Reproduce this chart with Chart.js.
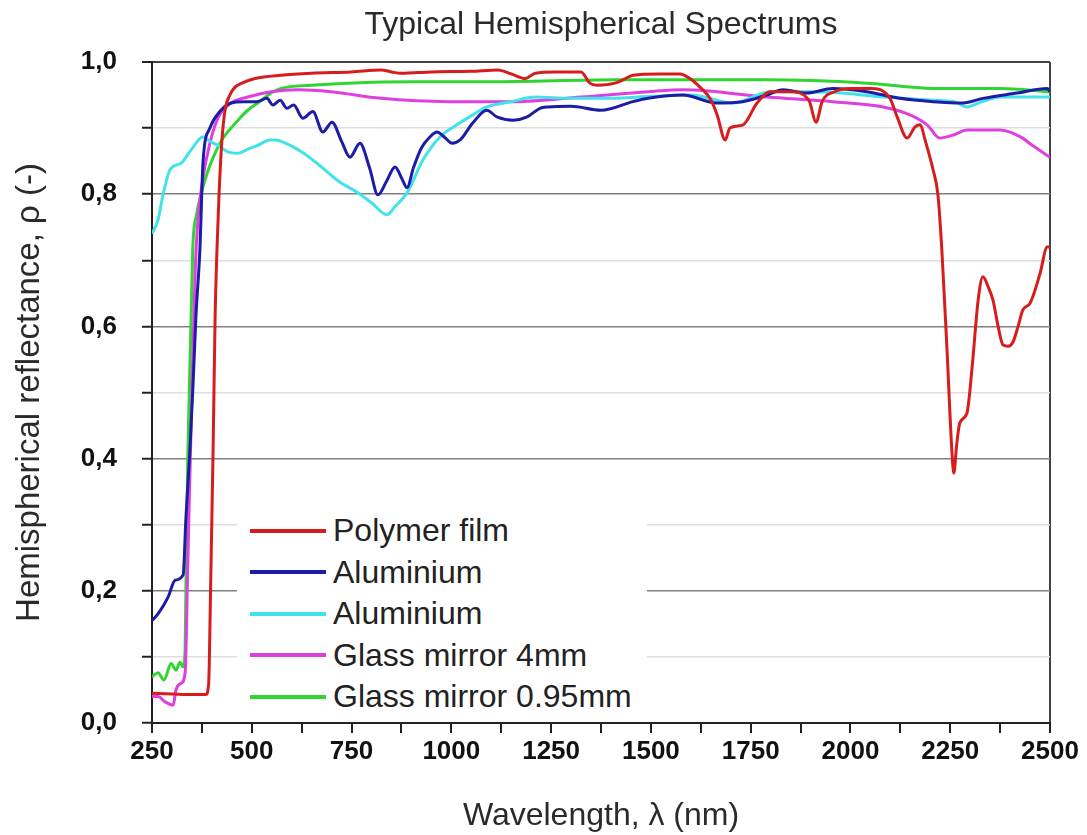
<!DOCTYPE html>
<html>
<head>
<meta charset="utf-8">
<script src="https://cdn.jsdelivr.net/npm/chart.js@4.4.1/dist/chart.umd.min.js"></script>
<style>
  body { margin: 0; background: #fff; }
  #wrap { position: relative; width: 1087px; height: 835px; }
  #legend {
    position: absolute; left: 237px; top: 510px; width: 410px; height: 207px;
    background: #fff; font-family: "Liberation Sans", Arial, sans-serif;
    font-size: 32px; color: #222;
  }
  .item { display: flex; align-items: center; height: 41.5px; }
  .swatch { width: 76px; height: 4px; margin-left: 13px; margin-right: 7px; }
</style>
</head>
<body>
<div id="wrap">
  <canvas id="chart"></canvas>
  <div id="legend"></div>
</div>
<script>
// Wavelength (nm) and reflectance
const polymerX = [250, 300, 350, 385, 392, 397, 403, 408, 413, 418, 425, 433, 445, 458, 475, 508, 573, 650, 750, 824, 850, 874, 950, 1050, 1117, 1150, 1185, 1210, 1260, 1325, 1347, 1365, 1410, 1430, 1455, 1520, 1573, 1598, 1623, 1648, 1666, 1686, 1698, 1731, 1766, 1800, 1850, 1896, 1914, 1929, 1960, 2000, 2050, 2099, 2117, 2142, 2162, 2175, 2187, 2207, 2219, 2229, 2242, 2254, 2259, 2266, 2274, 2292, 2305, 2320, 2332, 2345, 2357, 2370, 2382, 2395, 2407, 2420, 2432, 2450, 2475, 2493, 2500];
const polymerY = [0.045, 0.044, 0.043, 0.043, 0.06, 0.21, 0.41, 0.61, 0.72, 0.80, 0.88, 0.927, 0.95, 0.962, 0.968, 0.975, 0.98, 0.983, 0.985, 0.988, 0.985, 0.983, 0.985, 0.986, 0.988, 0.982, 0.975, 0.983, 0.985, 0.985, 0.968, 0.965, 0.968, 0.973, 0.98, 0.982, 0.982, 0.975, 0.962, 0.945, 0.92, 0.882, 0.90, 0.905, 0.938, 0.955, 0.955, 0.942, 0.909, 0.94, 0.955, 0.96, 0.96, 0.945, 0.917, 0.885, 0.902, 0.905, 0.882, 0.837, 0.80, 0.716, 0.564, 0.413, 0.378, 0.42, 0.454, 0.469, 0.539, 0.64, 0.675, 0.66, 0.64, 0.60, 0.572, 0.57, 0.576, 0.60, 0.625, 0.635, 0.68, 0.72, 0.72];

const alu1X = [250, 265, 290, 308, 328, 335, 345, 353, 360, 370, 378, 395, 420, 448, 480, 513, 538, 553, 571, 588, 605, 628, 653, 678, 701, 725, 746, 771, 795, 816, 838, 859, 875, 889, 905, 925, 947, 964, 985, 1002, 1022, 1054, 1089, 1114, 1155, 1190, 1222, 1242, 1300, 1375, 1455, 1493, 1580, 1665, 1730, 1790, 1831, 1891, 1956, 2041, 2124, 2207, 2282, 2332, 2417, 2493, 2500];
const alu1Y = [0.155, 0.165, 0.19, 0.216, 0.224, 0.31, 0.413, 0.514, 0.614, 0.716, 0.85, 0.90, 0.925, 0.938, 0.94, 0.94, 0.945, 0.935, 0.942, 0.93, 0.935, 0.915, 0.925, 0.894, 0.909, 0.88, 0.856, 0.877, 0.84, 0.799, 0.82, 0.841, 0.825, 0.81, 0.84, 0.87, 0.887, 0.894, 0.885, 0.877, 0.882, 0.908, 0.927, 0.917, 0.912, 0.917, 0.93, 0.932, 0.933, 0.927, 0.94, 0.945, 0.95, 0.938, 0.94, 0.95, 0.958, 0.953, 0.96, 0.955, 0.945, 0.94, 0.938, 0.945, 0.953, 0.96, 0.955];

const alu2X = [250, 265, 278, 295, 323, 348, 378, 395, 415, 440, 465, 490, 515, 546, 558, 596, 630, 663, 721, 764, 800, 839, 860, 889, 929, 972, 1014, 1054, 1089, 1150, 1210, 1300, 1400, 1500, 1600, 1706, 1800, 1900, 2000, 2082, 2207, 2260, 2292, 2330, 2375, 2440, 2500];
const alu2Y = [0.74, 0.761, 0.80, 0.837, 0.847, 0.867, 0.887, 0.88, 0.874, 0.864, 0.862, 0.868, 0.874, 0.882, 0.882, 0.874, 0.862, 0.847, 0.818, 0.803, 0.787, 0.769, 0.782, 0.802, 0.852, 0.887, 0.905, 0.92, 0.932, 0.94, 0.947, 0.945, 0.945, 0.948, 0.95, 0.938, 0.955, 0.955, 0.952, 0.947, 0.942, 0.94, 0.932, 0.94, 0.947, 0.947, 0.947];

const glass4X = [250, 265, 283, 303, 310, 323, 333, 340, 350, 358, 365, 378, 395, 415, 448, 490, 548, 616, 698, 824, 992, 1159, 1325, 1493, 1580, 1791, 1956, 2082, 2149, 2192, 2224, 2260, 2292, 2375, 2425, 2460, 2500];
const glass4Y = [0.04, 0.04, 0.032, 0.027, 0.05, 0.06, 0.076, 0.25, 0.50, 0.68, 0.76, 0.826, 0.877, 0.915, 0.938, 0.947, 0.955, 0.958, 0.955, 0.945, 0.94, 0.94, 0.947, 0.955, 0.958, 0.947, 0.94, 0.932, 0.92, 0.905, 0.885, 0.89, 0.897, 0.897, 0.887, 0.872, 0.856];

const glass095X = [250, 265, 280, 298, 310, 320, 328, 333, 336, 340, 348, 352, 362, 373, 390, 408, 428, 448, 470, 490, 520, 548, 573, 650, 741, 909, 1100, 1410, 1600, 1791, 2041, 2207, 2375, 2500];
const glass095Y = [0.07, 0.076, 0.065, 0.09, 0.08, 0.092, 0.085, 0.11, 0.26, 0.41, 0.614, 0.716, 0.77, 0.80, 0.835, 0.862, 0.885, 0.90, 0.915, 0.927, 0.94, 0.953, 0.96, 0.965, 0.968, 0.97, 0.97, 0.973, 0.973, 0.973, 0.968, 0.96, 0.96, 0.955];

const seriesNames = ['Polymer film', 'Aluminium', 'Aluminium', 'Glass mirror 4mm', 'Glass mirror 0.95mm'];
const seriesColors = ['#d61d1d', '#1c1ca6', '#42e2ea', '#df3fe0', '#31d531'];
const seriesX = [polymerX, alu1X, alu2X, glass4X, glass095X];
const seriesY = [polymerY, alu1Y, alu2Y, glass4Y, glass095Y];

const font = '"Liberation Sans", Arial, sans-serif';

function toPoints(xs, ys) {
    return xs.map((x, i) => ({ x: x, y: ys[i] }));
}

const datasets = seriesNames.map((name, i) => ({
    label: name,
    data: toPoints(seriesX[i], seriesY[i]),
    borderColor: seriesColors[i],
    backgroundColor: seriesColors[i],
    borderWidth: 3,
    pointRadius: 0,
    cubicInterpolationMode: 'monotone',
    fill: false
}));

const ctx = document.getElementById('chart').getContext('2d');
const chart = new Chart(ctx, {
    type: 'line',
    data: { datasets: datasets },
    options: {
        responsive: true,
        maintainAspectRatio: false,
        animation: false,
        layout: { padding: { left: 0, right: 37, top: 0, bottom: 0 } },
        plugins: {
            legend: { display: false },
            tooltip: { enabled: false },
            title: {
                display: true,
                fullSize: false,
                text: 'Typical Hemispherical Spectrums',
                color: '#2a2a2a',
                font: { family: font, size: 32, weight: 'normal', lineHeight: 1.2 },
                padding: { top: 6, bottom: 17.6 }
            }
        },
        scales: {
            x: {
                type: 'linear',
                min: 250,
                max: 2500,
                afterFit: s => { s.height = 112; },
                ticks: {
                    stepSize: 125,
                    autoSkip: false,
                    maxRotation: 0,
                    padding: 3,
                    color: '#111',
                    font: { family: font, size: 26, weight: 'bold' },
                    callback: v => (v % 250 === 0 ? String(v) : '')
                },
                grid: {
                    drawOnChartArea: true,
                    color: c => (c.tick && c.tick.value === 2500 ? '#444' : 'rgba(0,0,0,0)'),
                    lineWidth: 2,
                    tickLength: 10,
                    tickColor: '#222',
                    tickWidth: 2
                },
                border: { color: '#222', width: 2 },
                title: {
                    display: true,
                    text: 'Wavelength, λ (nm)',
                    color: '#2a2a2a',
                    font: { family: font, size: 32, weight: 'normal', lineHeight: 1.2 },
                    padding: { top: 8, bottom: 0 }
                }
            },
            y: {
                min: 0,
                max: 1,
                afterFit: s => { s.width = 152; },
                ticks: {
                    stepSize: 0.1,
                    autoSkip: false,
                    padding: 25,
                    color: '#111',
                    font: { family: font, size: 26, weight: 'bold' },
                    callback: v => {
                        const r = Math.round(v * 10);
                        return r % 2 === 0 ? (r / 10).toFixed(1).replace('.', ',') : '';
                    }
                },
                grid: {
                    color: c => {
                        const r = Math.round(c.tick.value * 10);
                        if (r === 10) return '#444';
                        return r % 2 === 0 ? '#808080' : '#dedede';
                    },
                    lineWidth: c => (Math.round(c.tick.value * 10) === 10 ? 2 : 1.5),
                    tickLength: 10,
                    tickColor: '#222',
                    tickWidth: 2
                },
                border: { color: '#222', width: 2 },
                title: {
                    display: true,
                    text: 'Hemispherical reflectance, ρ (-)',
                    color: '#2a2a2a',
                    font: { family: font, size: 33, weight: 'normal', lineHeight: 1.2 },
                    padding: { top: 10, bottom: 0 }
                }
            }
        }
    }
});

// legend drawn inside the plot, lower left
const legendBox = document.getElementById('legend');
chart.data.datasets.forEach(ds => {
    const row = document.createElement('div');
    row.className = 'item';
    const sw = document.createElement('span');
    sw.className = 'swatch';
    sw.style.background = ds.borderColor;
    const label = document.createElement('span');
    label.textContent = ds.label;
    row.appendChild(sw);
    row.appendChild(label);
    legendBox.appendChild(row);
});
</script>
</body>
</html>
